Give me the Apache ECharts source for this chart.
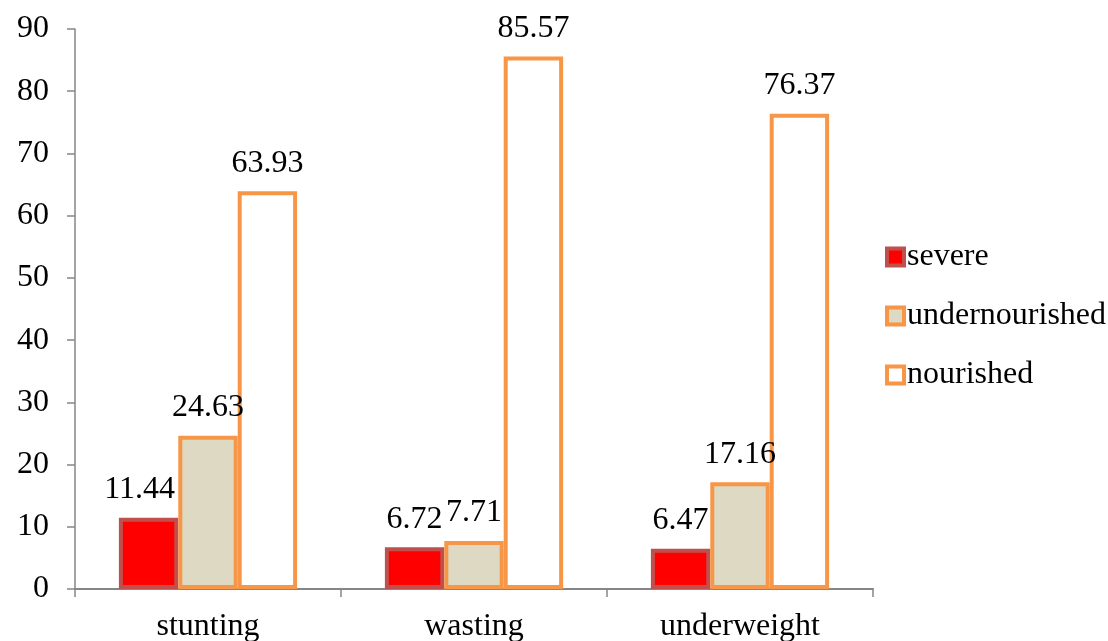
<!DOCTYPE html>
<html>
<head>
<meta charset="utf-8">
<script src="https://cdn.jsdelivr.net/npm/echarts@6/dist/echarts.min.js"></script>
<style>
  html, body { margin: 0; padding: 0; background: #fff; }
  #chart { width: 1108px; height: 641px; }
</style>
</head>
<body>
<div id="chart"></div>
<script>
// Nutritional status by indicator (%)
const categories = ['stunting', 'wasting', 'underweight'];
const severe = [11.44, 6.72, 6.47];
const undernourished = [24.63, 7.71, 17.16];
const nourished = [63.93, 85.57, 76.37];

const FONT = '"Liberation Serif", "Times New Roman", serif';
const FS = 32;
const labelStyle = {
  show: true,
  position: 'top',
  distance: 12,
  color: '#000',
  fontFamily: FONT,
  fontSize: FS,
  formatter: p => p.value.toFixed(2)
};

// the first "severe" label sits a little left of its bar
const severeData = severe.map((v, i) => i === 0 ? { value: v, label: { offset: [-9, 0] } } : v);

const chart = echarts.init(document.getElementById('chart'), null, { renderer: 'canvas' });
chart.setOption({
  animation: false,
  backgroundColor: '#fff',
  textStyle: { fontFamily: FONT },
  grid: { left: 75, right: 235, top: 29, bottom: 52, containLabel: false, outerBoundsMode: 'none' },
  legend: {
    orient: 'vertical',
    left: 880,
    top: 236,
    icon: 'rect',
    itemWidth: 17,
    itemHeight: 17,
    itemGap: 27,
    textStyle: { fontFamily: FONT, fontSize: FS, color: '#000', padding: [0, 0, 0, -2] },
    data: [
      { name: 'severe', itemStyle: { color: '#ff0000', borderColor: '#c0504d', borderWidth: 4 } },
      { name: 'undernourished', itemStyle: { color: '#ddd9c3', borderColor: '#f79646', borderWidth: 4 } },
      { name: 'nourished', itemStyle: { color: '#ffffff', borderColor: '#f79646', borderWidth: 4 } }
    ]
  },
  xAxis: {
    type: 'category',
    data: categories,
    axisLine: { lineStyle: { color: '#868686', width: 2 } },
    axisTick: { show: true, length: 8, lineStyle: { color: '#868686', width: 1.5 } },
    axisLabel: { color: '#000', fontFamily: FONT, fontSize: FS, margin: 22 }
  },
  yAxis: {
    type: 'value',
    min: 0,
    max: 90,
    interval: 10,
    axisLine: { show: true, lineStyle: { color: '#868686', width: 1.5 } },
    axisTick: { show: true, length: 8, lineStyle: { color: '#868686', width: 1.5 } },
    splitLine: { show: false },
    axisLabel: { color: '#000', fontFamily: FONT, fontSize: FS, margin: 26 }
  },
  series: [
    {
      name: 'severe', type: 'bar', data: severeData,
      barGap: '0%', barCategoryGap: '33%',
      itemStyle: { color: '#ff0000', borderColor: '#c0504d', borderWidth: 4 },
      label: labelStyle
    },
    {
      name: 'undernourished', type: 'bar', data: undernourished,
      barGap: '0%', barCategoryGap: '33%',
      itemStyle: { color: '#ddd9c3', borderColor: '#f79646', borderWidth: 4 },
      label: labelStyle
    },
    {
      name: 'nourished', type: 'bar', data: nourished,
      barGap: '0%', barCategoryGap: '33%',
      itemStyle: { color: '#ffffff', borderColor: '#f79646', borderWidth: 4 },
      label: labelStyle
    }
  ]
});
</script>
</body>
</html>
